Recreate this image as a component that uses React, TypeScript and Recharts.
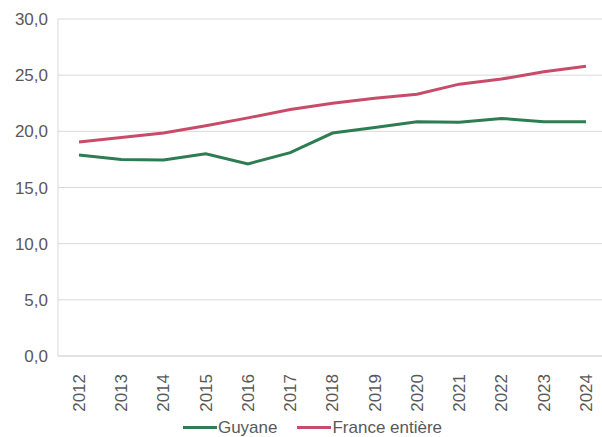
import { CartesianGrid, Legend, Line, LineChart, XAxis, YAxis } from 'recharts';

const annees = ['2012', '2013', '2014', '2015', '2016', '2017', '2018', '2019', '2020', '2021', '2022', '2023', '2024'];
const guyane = [17.9, 17.5, 17.45, 18.0, 17.1, 18.1, 19.85, 20.35, 20.85, 20.8, 21.15, 20.85, 20.85];
const franceEntiere = [19.05, 19.45, 19.85, 20.5, 21.2, 21.95, 22.5, 22.95, 23.3, 24.2, 24.65, 25.3, 25.8];
const ticksY = [0, 5, 10, 15, 20, 25, 30];

const data = annees.map((a, i) => ({ annee: a, guyane: guyane[i], france: franceEntiere[i] }));

const gris = '#595959';
const vert = '#2e7d52';
const rose = '#c84b6a';
const police = '"Liberation Sans", Arial, sans-serif';

function TickAnnee({ x, y, payload }: any) {
  return (
    <text
      x={0}
      y={0}
      transform={`translate(${x},${y + 10}) rotate(-90)`}
      textAnchor="end"
      dy="0.35em"
      fill={gris}
      fontSize={17}
      fontFamily={police}
    >
      {payload.value}
    </text>
  );
}

function Legende() {
  const items = [
    { nom: 'Guyane', couleur: vert },
    { nom: 'France entière', couleur: rose },
  ];
  return (
    <div
      style={{
        display: 'flex',
        justifyContent: 'center',
        height: 26,
        paddingTop: 7,
        paddingLeft: 38,
        boxSizing: 'border-box',
        fontFamily: police,
        fontSize: 17,
        lineHeight: '20px',
        color: gris,
      }}
    >
      {items.map((it) => (
        <div key={it.nom} style={{ display: 'flex', alignItems: 'center', marginRight: 20 }}>
          <span style={{ width: 34, height: 3, background: it.couleur, marginRight: 1, display: 'inline-block' }} />
          <span>{it.nom}</span>
        </div>
      ))}
    </div>
  );
}

export default function App() {
  return (
    <div style={{ position: 'absolute', left: 0, top: 0, width: 602, height: 437, overflow: 'hidden', background: '#fff' }}>
      <LineChart width={608} height={437} data={data} margin={{ top: 19, right: 1, bottom: 0, left: 0 }}>
        <CartesianGrid vertical={false} stroke="#d9d9d9" strokeWidth={1} />
        <XAxis
          dataKey="annee"
          tick={<TickAnnee />}
          tickLine={false}
          axisLine={{ stroke: '#d9d9d9' }}
          height={55}
          interval={0}
          padding={{ left: 21, right: 21 }}
        />
        <YAxis
          domain={[0, 30]}
          ticks={ticksY}
          tickFormatter={(v: number) => v.toFixed(1).replace('.', ',')}
          tick={{ fill: gris, fontSize: 17, fontFamily: police }}
          tickLine={false}
          axisLine={{ stroke: '#d9d9d9' }}
          width={58}
          tickMargin={4}
        />
        <Legend verticalAlign="bottom" height={26} content={<Legende />} />
        <Line
          type="linear"
          dataKey="guyane"
          name="Guyane"
          stroke={vert}
          strokeWidth={3}
          dot={false}
          isAnimationActive={false}
        />
        <Line
          type="linear"
          dataKey="france"
          name="France entière"
          stroke={rose}
          strokeWidth={3}
          dot={false}
          isAnimationActive={false}
        />
      </LineChart>
    </div>
  );
}
